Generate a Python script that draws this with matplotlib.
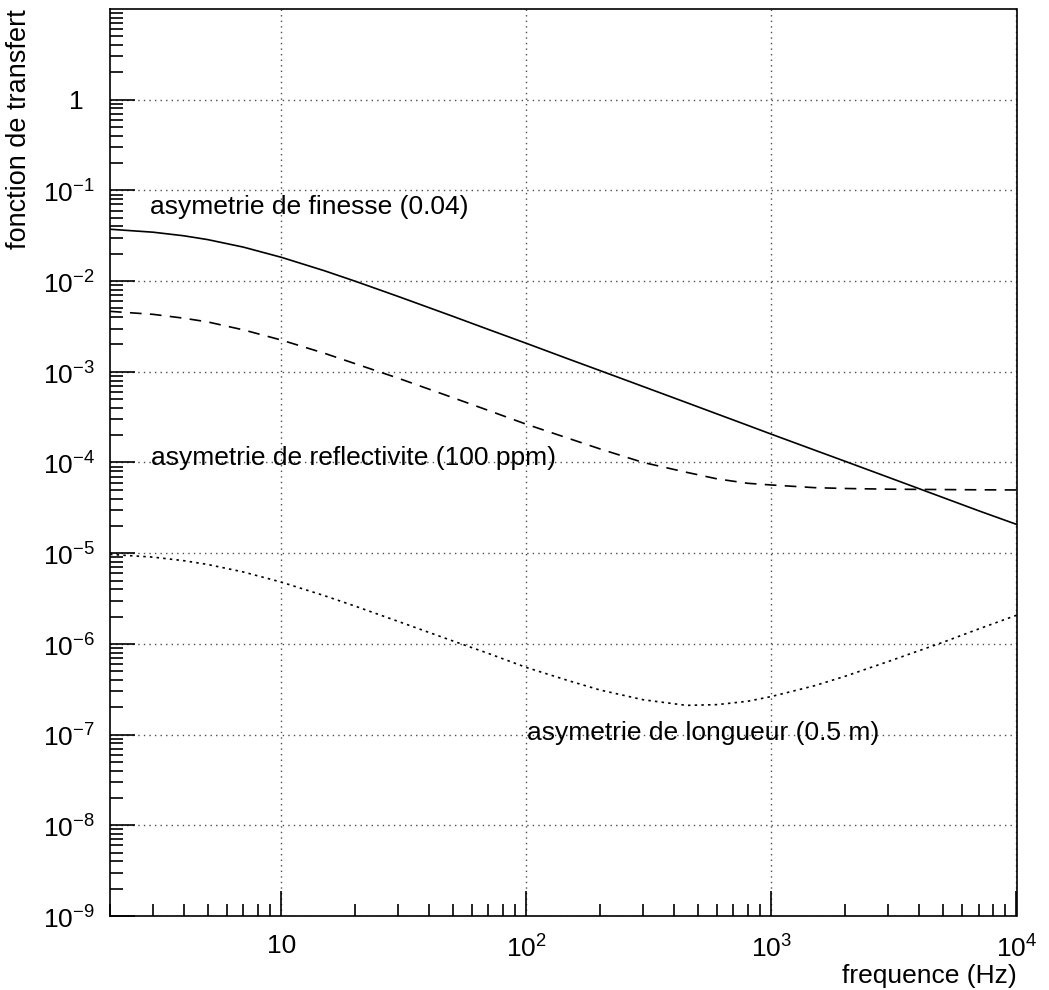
import math
import matplotlib
matplotlib.use("Agg")
import matplotlib.pyplot as plt
from matplotlib.ticker import LogLocator, FixedLocator, FuncFormatter, NullFormatter

plt.rcParams['font.family'] = ['Liberation Sans', 'DejaVu Sans']
plt.rcParams['mathtext.fontset'] = 'custom'
plt.rcParams['mathtext.rm'] = 'Liberation Sans'

# frequence (Hz)
freq = [2, 3, 4, 5, 7, 10, 15, 20, 30, 50, 70, 100, 150, 200, 300, 450,
        600, 800, 1000, 1500, 2000, 3000, 5000, 7000, 10000]

# asymetrie de finesse (0.04)
finesse = [0.0373, 0.0346, 0.0316, 0.0287, 0.0237, 0.0183, 0.0130, 0.00998,
           0.00677, 0.0041, 0.00293, 0.00206, 1.37e-3, 1.03e-3, 6.87e-4,
           4.58e-4, 3.43e-4, 2.57e-4, 2.05e-4, 1.37e-4, 1.03e-4, 6.87e-5,
           4.12e-5, 2.94e-5, 2.08e-5]

# asymetrie de reflectivite (100 ppm)
reflect = [4.64e-3, 4.3e-3, 3.9e-3, 3.55e-3, 2.9e-3, 2.24e-3, 1.6e-3, 1.23e-3,
           8.5e-4, 5.2e-4, 3.75e-4, 2.64e-4, 1.83e-4, 1.41e-4, 1.0e-4, 7.8e-5,
           6.6e-5, 5.9e-5, 5.65e-5, 5.28e-5, 5.17e-5, 5.08e-5, 5.03e-5,
           5.0e-5, 4.98e-5]

# asymetrie de longueur (0.5 m)
longueur = [9.7e-6, 9.05e-6, 8.27e-6, 7.52e-6, 6.21e-6, 4.8e-6, 3.4e-6,
            2.61e-6, 1.77e-6, 1.08e-6, 7.85e-7, 5.5e-7, 3.9e-7, 3.1e-7,
            2.42e-7, 2.1e-7, 2.14e-7, 2.33e-7, 2.63e-7, 3.46e-7, 4.4e-7,
            6.4e-7, 1.04e-6, 1.46e-6, 2.07e-6]

labels = ['asymetrie de finesse (0.04)',
          'asymetrie de reflectivite (100 ppm)',
          'asymetrie de longueur (0.5 m)']
label_pos = [(2.9, 0.066), (2.95, 1.12e-4), (101, 1.05e-7)]

fig = plt.figure(figsize=(10.49, 9.9), dpi=100)
ax = fig.add_axes([110/1049, 1 - 916/990, (1016.5 - 110)/1049, (916 - 9)/990])

ax.plot(freq, finesse, color='black', lw=1.2)
ax.plot(freq, reflect, color='black', lw=1.2, linestyle=(0, (7, 5)))
ax.plot(freq, longueur, color='black', lw=1.2, linestyle=(0, (1.5, 2.5)))

ax.set_xscale('log')
ax.set_yscale('log')
ax.set_xlim(2, 1e4)
ax.set_ylim(1e-9, 10)

for (x, y), txt in zip(label_pos, labels):
    ax.text(x, y, txt, fontsize=19, ha='left', va='center')


def xfmt(v, pos):
    e = int(round(math.log10(v)))
    if e == 1:
        return '10'
    return r'$10^{%d}$' % e


def yfmt(v, pos):
    e = int(round(math.log10(v)))
    if e == 0:
        return '1'
    return r'$10^{%d}$' % e


ax.xaxis.set_major_locator(FixedLocator([10, 100, 1000, 10000]))
ax.xaxis.set_major_formatter(FuncFormatter(xfmt))
ax.xaxis.set_minor_locator(LogLocator(base=10, subs=range(2, 10), numticks=20))
ax.xaxis.set_minor_formatter(NullFormatter())
ax.yaxis.set_major_locator(FixedLocator([10.0**k for k in range(-9, 1)]))
ax.yaxis.set_major_formatter(FuncFormatter(yfmt))
ax.yaxis.set_minor_locator(LogLocator(base=10, subs=range(2, 10), numticks=30))
ax.yaxis.set_minor_formatter(NullFormatter())

ax.tick_params(which='both', direction='in', top=False, right=False,
               labelsize=19, width=1.2)
ax.tick_params(which='major', length=18)
ax.tick_params(which='minor', length=9)
ax.tick_params(axis='x', which='major', pad=13)
ax.tick_params(axis='y', which='major', pad=11)

# ROOT puts the plain "1" label a bit further left
for lab in ax.get_yticklabels():
    if lab.get_text() == '1':
        lab.set_x(-0.012)

ax.grid(True, which='major', color='0.3', linestyle=(0, (1, 3)), lw=1)

for s in ax.spines.values():
    s.set_linewidth(1.2)

ax.set_xlabel('frequence (Hz)', fontsize=19, ha='right', va='top')
ax.xaxis.set_label_coords(1.0, -0.053)
ax.set_ylabel('fonction de transfert', fontsize=19.5, ha='right')
ax.yaxis.set_label_coords(-0.086, 1.0)

fig.savefig('out.png', dpi=100)
